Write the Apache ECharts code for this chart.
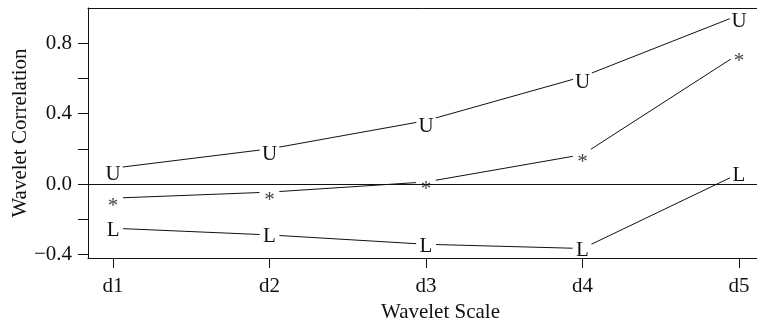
<!DOCTYPE html>
<html>
<head>
<meta charset="utf-8">
<script src="https://cdn.jsdelivr.net/npm/echarts@6/dist/echarts.min.js"></script>
<style>html,body{margin:0;padding:0;background:#fff}#chart{width:757px;height:326px}</style>
</head>
<body>
<div id="chart"></div>
<script>
// wavelet scales and the three curves (upper bound, estimate, lower bound)
const scales = ['d1', 'd2', 'd3', 'd4', 'd5']
const upper = [0.09, 0.20, 0.36, 0.61, 0.96]
const estimate = [-0.08, -0.046, 0.012, 0.167, 0.74]
const lower = [-0.251, -0.289, -0.342, -0.366, 0.06]
const yTicks = [-0.4, -0.2, 0, 0.2, 0.4, 0.6, 0.8]
const yLabels = [-0.4, 0, 0.4, 0.8]
const xPos = scales.map((s, i) => i + 1)

const font = 'Liberation Serif'
const ink = '#111'

function curve(name, values, glyph, dy, glyphColor) {
  return {
    name: name,
    type: 'line',
    data: values.map((v, i) => [xPos[i], v]),
    symbol: 'circle',
    symbolSize: 20,
    itemStyle: { color: '#fff', borderWidth: 0 },
    lineStyle: { color: ink, width: 1 },
    label: {
      show: true,
      position: 'inside',
      offset: [0, dy],
      formatter: glyph,
      fontFamily: font,
      fontSize: 21,
      color: glyphColor || ink
    },
    emphasis: { disabled: true },
    silent: true,
    z: 2
  }
}

const chart = echarts.init(document.getElementById('chart'))
chart.setOption({
  animation: false,
  backgroundColor: '#fff',
  grid: { left: 88, top: 8, bottom: 68, right: -36, outerBoundsMode: 'none', containLabel: false },
  xAxis: [
    {
      type: 'value',
      min: 0.84,
      max: 5.345,
      position: 'bottom',
      z: 5,
      axisLine: { show: true, onZero: false, lineStyle: { color: ink, width: 1 } },
      axisTick: { show: true, length: 10, customValues: xPos, lineStyle: { color: ink } },
      axisLabel: {
        customValues: xPos,
        formatter: v => scales[Math.round(v) - 1],
        margin: 18,
        fontFamily: font,
        fontSize: 21,
        color: ink
      },
      splitLine: { show: false },
      name: 'Wavelet Scale',
      nameLocation: 'middle',
      nameGap: 44,
      nameMoveOverlap: false,
      nameTextStyle: { fontFamily: font, fontSize: 21, color: ink }
    },
    {
      type: 'value',
      min: 0.84,
      max: 5.345,
      position: 'top',
      z: 5,
      axisLine: { show: true, onZero: false, lineStyle: { color: ink, width: 1 } },
      axisTick: { show: false },
      axisLabel: { show: false },
      splitLine: { show: false }
    }
  ],
  yAxis: {
    type: 'value',
    min: -0.42,
    max: 1.0,
    z: 5,
    axisLine: { show: true, onZero: false, lineStyle: { color: ink, width: 1 } },
    axisTick: { show: true, length: 10, customValues: yTicks, lineStyle: { color: ink } },
    axisLabel: {
      customValues: yLabels,
      formatter: v => v.toFixed(1).replace('-', '\u2212'),
      margin: 16,
      fontFamily: font,
      fontSize: 21,
      color: ink
    },
    splitLine: { show: false },
    name: 'Wavelet Correlation',
    nameLocation: 'middle',
    nameGap: 57,
    nameMoveOverlap: false,
    nameTextStyle: { fontFamily: font, fontSize: 21, color: ink }
  },
  series: [
    curve('U', upper, 'U', 6),
    curve('*', estimate, '*', 8, '#444'),
    curve('L', lower, 'L', 2),
    {
      // zero reference line, drawn above the marker gaps
      type: 'line',
      data: [],
      silent: true,
      z: 6,
      markLine: {
        silent: true,
        symbol: 'none',
        label: { show: false },
        lineStyle: { color: ink, width: 1, type: 'solid' },
        data: [{ yAxis: 0 }]
      }
    }
  ]
})
</script>
</body>
</html>
